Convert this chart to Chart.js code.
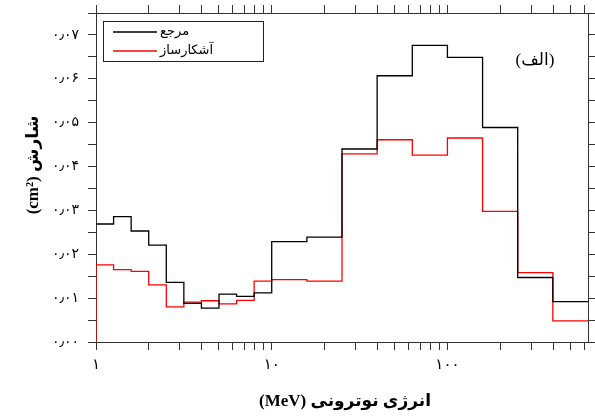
<!DOCTYPE html>
<html>
<head>
<meta charset="utf-8">
<script src="https://cdn.jsdelivr.net/npm/chart.js@4.4.0/dist/chart.umd.min.js"></script>
<style>
html, body { margin: 0; padding: 0; background: #fff; }
#wrap { width: 595px; height: 418px; }
</style>
</head>
<body>
<div id="wrap"><canvas id="canvas"></canvas></div>
<script>
// bin edges (MeV) of the group structure
var binEdges = [1, 1.259, 1.585, 1.995, 2.512, 3.162, 3.981, 5.012, 6.310, 7.943, 10,
                15.85, 25.12, 39.81, 63.10, 100, 158.5, 251.2, 398.1, 631];
// one value per bin
var refValues = [0.0269, 0.0286, 0.0253, 0.0221, 0.0136, 0.0088, 0.0077, 0.0109, 0.0104, 0.0112,
                 0.0229, 0.0239, 0.0440, 0.0607, 0.0676, 0.0649, 0.0489, 0.0147, 0.0092];
var detValues = [0.0176, 0.0165, 0.0161, 0.0130, 0.0080, 0.0091, 0.0094, 0.0087, 0.0095, 0.0139,
                 0.0142, 0.0139, 0.0429, 0.0461, 0.0426, 0.0465, 0.0298, 0.0158, 0.0048];
var seriesNames = ['مرجع', 'آشکارساز'];
var seriesColors = ['#000000', '#ff0000'];
var xTickValues = [1, 2, 3, 4, 5, 6, 7, 8, 9, 10, 20, 30, 40, 50, 60, 70, 80, 90,
                   100, 200, 300, 400, 500, 600];
var xTickLabels = { 1: '۱', 10: '۱۰', 100: '۱۰۰' };
var yTickLabels = ['۰٫۰۰', '۰٫۰۱', '۰٫۰۲', '۰٫۰۳', '۰٫۰۴', '۰٫۰۵', '۰٫۰۶', '۰٫۰۷'];
var xTitle = 'انرژی نوترونی (MeV)';
var yTitle = 'شارش (cm²)';
var panelLabel = '(الف)';

function toSteps(vals, fromZero) {
  var pts = [];
  if (fromZero) pts.push({ x: binEdges[0], y: 0 });
  vals.forEach(function (v, i) { pts.push({ x: binEdges[i], y: v }); });
  pts.push({ x: binEdges[binEdges.length - 1], y: vals[vals.length - 1] });
  return pts;
}

var serif = "'Liberation Serif', 'DejaVu Serif', 'DejaVu Sans'";
var axisColor = '#333';

function logTicks(scale) {
  scale.ticks = xTickValues.map(function (v) { return { value: v }; });
}
function noPad(s) {
  s.paddingTop = 0; s.paddingBottom = 0; s.paddingLeft = 0; s.paddingRight = 0;
}

var frameGrid = {
  drawOnChartArea: false, drawTicks: true, tickLength: 8,
  color: axisColor, tickColor: axisColor, tickWidth: 1
};
var frameBorder = { display: true, color: axisColor, width: 1 };

var extras = {
  id: 'extras',
  afterDraw: function (chart) {
    var ctx = chart.ctx;
    ctx.save();
    // legend box
    ctx.strokeStyle = '#222';
    ctx.lineWidth = 1;
    ctx.strokeRect(103.5, 21.5, 160, 40);
    var rows = [32, 51];
    for (var i = 0; i < 2; i++) {
      ctx.strokeStyle = seriesColors[i];
      ctx.lineWidth = 1.3;
      ctx.beginPath();
      ctx.moveTo(113, rows[i]);
      ctx.lineTo(157, rows[i]);
      ctx.stroke();
      ctx.fillStyle = '#000';
      ctx.font = '13px ' + serif;
      ctx.textBaseline = 'middle';
      ctx.direction = 'rtl';
      ctx.textAlign = 'left';
      ctx.fillText(seriesNames[i], 160, rows[i]);
    }
    // panel label
    ctx.font = '17px ' + serif;
    ctx.textAlign = 'center';
    ctx.fillText(panelLabel, 535, 61);
    // axis titles
    ctx.font = 'bold 17px ' + serif;
    ctx.fillText(xTitle, 345, 402);
    ctx.translate(34, 165);
    ctx.rotate(-Math.PI / 2);
    ctx.fillText(yTitle, 0, 0);
    ctx.restore();
  }
};

var config = {
  type: 'line',
  data: {
    datasets: [{
      label: seriesNames[0],
      data: toSteps(refValues, false),
      borderColor: seriesColors[0],
      borderWidth: 1.3,
      stepped: true,
      pointRadius: 0,
      fill: false
    }, {
      label: seriesNames[1],
      data: toSteps(detValues, true),
      borderColor: seriesColors[1],
      borderWidth: 1.3,
      stepped: true,
      pointRadius: 0,
      fill: false
    }]
  },
  options: {
    responsive: true,
    maintainAspectRatio: false,
    animation: false,
    layout: { padding: 0 },
    plugins: { legend: { display: false }, tooltip: { enabled: false } },
    scales: {
      x: {
        type: 'logarithmic', position: 'bottom', min: 1, max: 631,
        afterBuildTicks: logTicks,
        afterFit: function (s) { s.height = 76; noPad(s); },
        grid: frameGrid, border: frameBorder,
        ticks: {
          autoSkip: false, maxRotation: 0, padding: 6, color: '#000',
          font: { family: serif, size: 15 },
          callback: function (v) { return xTickLabels[v] || ''; }
        }
      },
      x2: {
        type: 'logarithmic', position: 'top', min: 1, max: 631,
        afterBuildTicks: logTicks,
        afterFit: function (s) { s.height = 13; noPad(s); },
        grid: frameGrid, border: frameBorder,
        ticks: { display: false }
      },
      y: {
        type: 'linear', position: 'left', min: 0, max: 0.075,
        afterFit: function (s) { s.width = 96; noPad(s); },
        grid: frameGrid, border: frameBorder,
        ticks: {
          stepSize: 0.005, padding: 9, color: '#000',
          font: { family: serif, size: 14 },
          callback: function (v) {
            var k = Math.round(v * 1000);
            return k % 10 === 0 ? yTickLabels[k / 10] : '';
          }
        }
      },
      y2: {
        type: 'linear', position: 'right', min: 0, max: 0.075,
        afterFit: function (s) { s.width = 7; noPad(s); },
        grid: frameGrid, border: frameBorder,
        ticks: { display: false, stepSize: 0.005 }
      }
    }
  },
  plugins: [extras]
};

window.myChart = new Chart(document.getElementById('canvas'), config);
</script>
</body>
</html>
